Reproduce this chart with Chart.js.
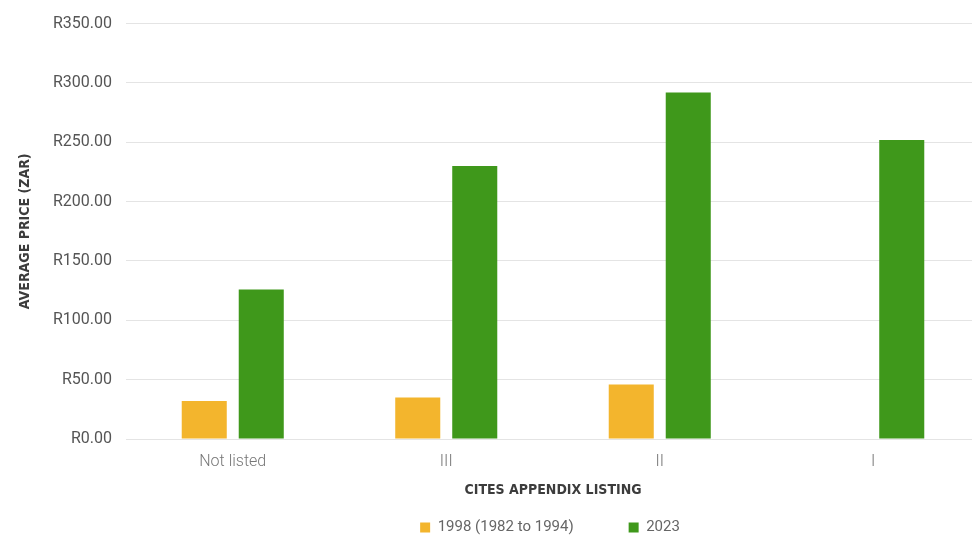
<!DOCTYPE html>
<html>
<head>
<meta charset="utf-8">
<script src="https://cdn.jsdelivr.net/npm/chart.js@4"></script>
<style>
  html, body { margin: 0; padding: 0; background: #fff; overflow: hidden; }
  #wrap { position: relative; width: 1076px; height: 582px; }
</style>
</head>
<body>
<div id="wrap"><canvas id="price-chart"></canvas></div>
<script>
const categories = ['Not listed', 'III', 'II', 'I'];
const price1998 = [32, 35, 46, null];
const price2023 = [126, 230, 292, 252];
const seriesNames = ['1998 (1982 to 1994)', '2023'];

const yellow = '#F3B52D';
const green = '#3F981B';

const titleFont = {
    family: "'DejaVu Sans Condensed', sans-serif",
    size: 14,
    weight: 'bold'
};

// the legend uses a wide item gap, so pull its box up under the axis title
const legendOffset = {
    id: 'legendOffset',
    afterUpdate(chart) {
        const lg = chart.legend;
        if (!lg) return;
        lg.top -= 37;
        lg.bottom -= 37;
        lg.left += 56;
        lg.right += 56;
    }
};

const ctx = document.getElementById('price-chart').getContext('2d');
const priceChart = new Chart(ctx, {
    type: 'bar',
    data: {
        labels: categories,
        datasets: [
            {
                label: seriesNames[0],
                data: price1998,
                backgroundColor: yellow,
                categoryPercentage: 0.534,
                barPercentage: 0.79
            },
            {
                label: seriesNames[1],
                data: price2023,
                backgroundColor: green,
                categoryPercentage: 0.534,
                barPercentage: 0.79
            }
        ]
    },
    plugins: [legendOffset],
    options: {
        responsive: true,
        maintainAspectRatio: false,
        animation: false,
        layout: { padding: { top: 21, right: 96, bottom: 0, left: 8 } },
        plugins: {
            tooltip: { enabled: false },
            legend: {
                position: 'bottom',
                labels: {
                    boxWidth: 10,
                    boxHeight: 10,
                    padding: 55,
                    color: '#666',
                    font: { family: 'Roboto', size: 15 }
                }
            }
        },
        scales: {
            x: {
                grid: { display: false, drawTicks: false },
                border: { display: false },
                ticks: {
                    padding: 13,
                    color: '#777',
                    font: { family: 'Roboto', size: 16, weight: 300 }
                },
                title: {
                    display: true,
                    text: 'CITES APPENDIX LISTING',
                    color: '#3c3c3c',
                    font: titleFont,
                    padding: { top: 4, bottom: 3 }
                },
                afterFit: scale => { scale.height = 63; }
            },
            y: {
                min: 0,
                max: 350,
                grid: { color: '#e4e4e4', drawTicks: false },
                border: { display: false },
                ticks: {
                    stepSize: 50,
                    padding: 14,
                    color: '#555',
                    font: { family: 'Roboto', size: 16 },
                    callback: value => 'R' + value.toFixed(2)
                },
                title: {
                    display: true,
                    text: 'AVERAGE PRICE (ZAR)',
                    color: '#3c3c3c',
                    font: titleFont,
                    padding: { top: 9, bottom: 10 }
                },
                afterFit: scale => { scale.width = 118; }
            }
        }
    }
});
</script>
</body>
</html>
